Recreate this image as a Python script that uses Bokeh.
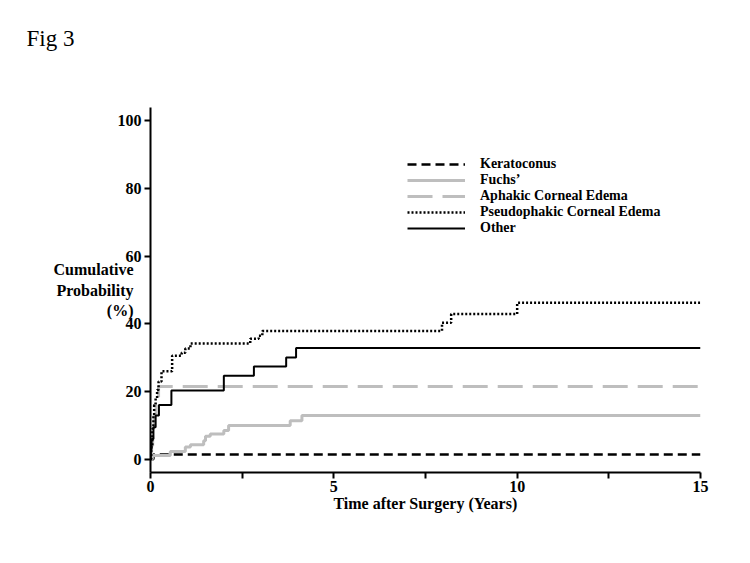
from bokeh.plotting import figure
from bokeh.models import Range1d, FixedTicker, Legend, LegendItem, Title
from bokeh.embed import file_html
from bokeh.resources import INLINE

# ---- data ----
series_names = ["Keratoconus", "Fuchs\u2019", "Aphakic Corneal Edema",
                "Pseudophakic Corneal Edema", "Other"]

kera_t = [0, 0.08, 15]
kera_v = [0, 1.4, 1.4]

fuchs_t = [0, 0.05, 0.54, 0.95, 1.09, 1.45, 1.5, 1.63, 2.0, 2.13, 3.81, 4.13, 15]
fuchs_v = [0, 1.1, 2.3, 3.6, 4.3, 5.5, 6.8, 7.5, 8.5, 10.0, 11.4, 12.9, 12.9]

aph_t = [0, 0.03, 0.06, 0.1, 0.15, 0.22, 15]
aph_v = [0, 4, 9, 13, 17, 21.5, 21.5]

pseudo_t = [0, 0.02, 0.05, 0.08, 0.1, 0.14, 0.18, 0.22, 0.3, 0.59, 0.85, 0.95,
            1.09, 2.72, 2.95, 3.05, 7.95, 8.2, 10.0, 15]
pseudo_v = [0, 4, 9, 13, 16, 18, 20.5, 23, 26, 30.6, 31.5, 32.7,
            34.2, 35.6, 36.5, 37.9, 40.3, 42.9, 46.2, 46.2]

other_t = [0, 0.01, 0.03, 0.08, 0.14, 0.23, 0.57, 2.0, 2.82, 3.7, 3.97, 15]
other_v = [0, 3, 6, 9.5, 12.9, 16, 20.3, 24.7, 27.4, 30.1, 32.9, 32.9]

x_major_ticks = [0, 5, 10, 15]
x_minor_ticks = [2.5, 7.5, 12.5]
y_ticks = [0, 20, 40, 60, 80, 100]

FONT = "Liberation Serif"
GRAY = "#bebebe"

p = figure(frame_width=550, frame_height=365,
           min_border_left=150, min_border_top=107,
           min_border_right=42, min_border_bottom=75,
           x_range=Range1d(0, 15), y_range=Range1d(-3.9, 103.9),
           output_backend="svg", toolbar_location=None)
p.outline_line_color = None
p.xgrid.visible = False
p.ygrid.visible = False

r_kera = p.step(kera_t, kera_v, mode="after", line_color="black",
                line_width=2.5, line_dash="9 5")
r_fuchs = p.step(fuchs_t, fuchs_v, mode="after", line_color=GRAY, line_width=3)
r_aph = p.step(aph_t, aph_v, mode="after", line_color=GRAY, line_width=3,
               line_dash="25 10")
r_other = p.step(other_t, other_v, mode="after", line_color="black", line_width=2)
r_pseudo = p.step(pseudo_t, pseudo_v, mode="after", line_color="black",
                  line_width=2.5, line_dash="2 2")

# axes
for ax in (p.xaxis[0], p.yaxis[0]):
    ax.axis_line_width = 2
    ax.axis_line_color = "black"
    ax.major_tick_line_width = 2
    ax.major_tick_in = 0
    ax.major_tick_out = 6
    ax.major_label_text_font = FONT
    ax.major_label_text_font_style = "bold"
    ax.major_label_text_font_size = "16px"
    ax.major_label_text_color = "black"
    ax.axis_label_text_font = FONT
    ax.axis_label_text_font_style = "bold"
    ax.axis_label_text_font_size = "16px"
    ax.axis_label_text_color = "black"

p.xaxis[0].ticker = FixedTicker(ticks=x_major_ticks, minor_ticks=x_minor_ticks)
p.xaxis[0].minor_tick_in = 0
p.xaxis[0].minor_tick_out = 6
p.xaxis[0].minor_tick_line_width = 2
p.xaxis[0].minor_tick_line_color = "black"
p.xaxis[0].major_label_standoff = 2
p.xaxis[0].axis_label = "Time after Surgery (Years)"
p.xaxis[0].axis_label_standoff = 0

p.yaxis[0].ticker = FixedTicker(ticks=y_ticks, minor_ticks=[])
p.yaxis[0].minor_tick_line_color = None
p.yaxis[0].major_label_standoff = 3
p.yaxis[0].axis_label = "Cumulative\nProbability\n(%)"
p.yaxis[0].axis_label_orientation = "horizontal"
p.yaxis[0].axis_label_text_align = "center"
p.yaxis[0].axis_label_standoff = -19

# figure caption at the top-left (second, empty line lifts it to the top)
fig_title = Title(text="Fig 3\n", align="left", offset=-124,
                  text_font=FONT, text_font_style="normal",
                  text_font_size="23px", text_color="black",
                  text_line_height=1.5)
fig_title.standoff = 38
p.add_layout(fig_title, "above")

# legend: one row per series
renderers = [r_kera, r_fuchs, r_aph, r_pseudo, r_other]
row_centers = [164, 180, 196, 212, 228]
for name, r, cy in zip(series_names, renderers, row_centers):
    lg = Legend(items=[LegendItem(label=name, renderers=[r])],
                location=(257, 472 - cy - 8))
    lg.margin = 0
    lg.padding = 0
    lg.spacing = 0
    lg.glyph_width = 58
    lg.glyph_height = 16
    lg.label_height = 16
    lg.label_standoff = 15
    lg.label_text_font = FONT
    lg.label_text_font_style = "bold"
    lg.label_text_font_size = "14px"
    lg.label_text_color = "black"
    lg.border_line_color = None
    lg.background_fill_alpha = 0
    p.add_layout(lg)

open("out.html", "w").write(file_html(p, INLINE))
